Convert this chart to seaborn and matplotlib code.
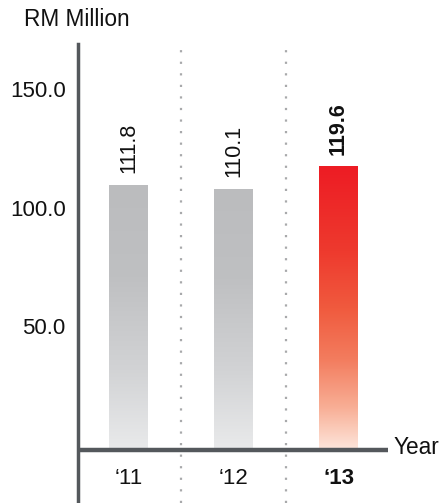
import numpy as np
import pandas as pd
import matplotlib
matplotlib.use("Agg")
import matplotlib.pyplot as plt
import matplotlib.transforms as mtransforms
from matplotlib.colors import LinearSegmentedColormap
import seaborn as sns

# Revenue by financial year (RM Million)
years = ["\u201811", "\u201812", "\u201813"]
revenue = [111.8, 110.1, 119.6]
value_labels = ["111.8", "110.1", "119.6"]
highlight = [False, False, True]
y_ticks = [50.0, 100.0, 150.0]
y_tick_labels = ["50.0", "100.0", "150.0"]

sns.set_theme(style="white")
plt.rcParams["font.family"] = ["Liberation Sans", "DejaVu Sans"]

TXT = "#111111"
AXIS = "#54585c"

W, H = 445, 503
fig = plt.figure(figsize=(W / 100, H / 100), dpi=100)
ax_left, ax_right, ax_top, ax_bottom = 78, 388, 44, 503
ax = fig.add_axes([ax_left / W, 1 - ax_bottom / H,
                   (ax_right - ax_left) / W, (ax_bottom - ax_top) / H])

df = pd.DataFrame({"year": years, "revenue": revenue})
sns.barplot(data=df, x="year", y="revenue", ax=ax, width=0.37,
            color="#bbbcbe", edgecolor="none", linewidth=0)

grey_cmap = LinearSegmentedColormap.from_list(
    "grey_fade", [(0.0, "#bbbcbe"), (0.35, "#bfc0c2"), (0.7, "#d2d3d5"), (1.0, "#e9eaeb")])
red_cmap = LinearSegmentedColormap.from_list(
    "red_fade", [(0.0, "#ed1c24"), (0.3, "#ee3a2e"), (0.5, "#f05a3e"),
                 (0.68, "#f37c5e"), (0.85, "#f8ae95"), (1.0, "#fde6dc")])
grad = np.linspace(0, 1, 256).reshape(-1, 1)

# fill each bar with a vertical fade
for patch, hl in zip(ax.patches, highlight):
    x0, w = patch.get_x(), patch.get_width()
    h = patch.get_height()
    patch.set_alpha(0)
    img = ax.imshow(grad, cmap=red_cmap if hl else grey_cmap, aspect="auto",
                    extent=[x0, x0 + w, 0, h], origin="upper", zorder=2,
                    interpolation="bicubic")
    clip = plt.Rectangle((x0, 0), w, h, transform=ax.transData)
    img.set_clip_path(clip)

ax.set_xlim(-0.481, 2.471)
ax.set_ylim(-22.4, 171)

# value labels above bars
for i, (v, lab, hl) in enumerate(zip(revenue, value_labels, highlight)):
    ax.annotate(lab, xy=(i, v), xytext=(0, 8), textcoords="offset points",
                rotation=90, ha="center", va="bottom", fontsize=15.5,
                fontweight="bold" if hl else "normal", color=TXT)

# dotted separators between years
for xs in (0.5, 1.5):
    ax.axvline(xs, color="#a8a9ab", linestyle=(0, (1, 4.2)), linewidth=1.6,
               zorder=1, ymin=0, ymax=1)

# baseline
ax.axhline(0, color=AXIS, linewidth=3.2, zorder=3)

for side in ("top", "right", "bottom"):
    ax.spines[side].set_visible(False)
ax.spines["left"].set_color(AXIS)
ax.spines["left"].set_linewidth(2.5)

ax.set_yticks(y_ticks)
ax.set_yticklabels(y_tick_labels, fontsize=16, color=TXT)
ax.tick_params(axis="y", length=0, pad=9)
shift = mtransforms.ScaledTranslation(0, 5 / 100, fig.dpi_scale_trans)
for lbl in ax.get_yticklabels():
    lbl.set_transform(lbl.get_transform() + shift)
ax.set_xticks([])
ax.set_xlabel("")
ax.set_ylabel("")
ax.grid(False)

for i, (yr, hl) in enumerate(zip(years, highlight)):
    ax.text(i, -12.0, yr, ha="center", va="center", fontsize=16,
            fontweight="bold" if hl else "normal", color=TXT)

fig.text(24 / W, 1 - 20 / H, "RM Million", ha="left", va="center",
         fontsize=16.3, color=TXT)
fig.text(393 / W, 1 - 448 / H, "Year", ha="left", va="center",
         fontsize=16.3, color=TXT)

fig.savefig("out.png", dpi=100)
